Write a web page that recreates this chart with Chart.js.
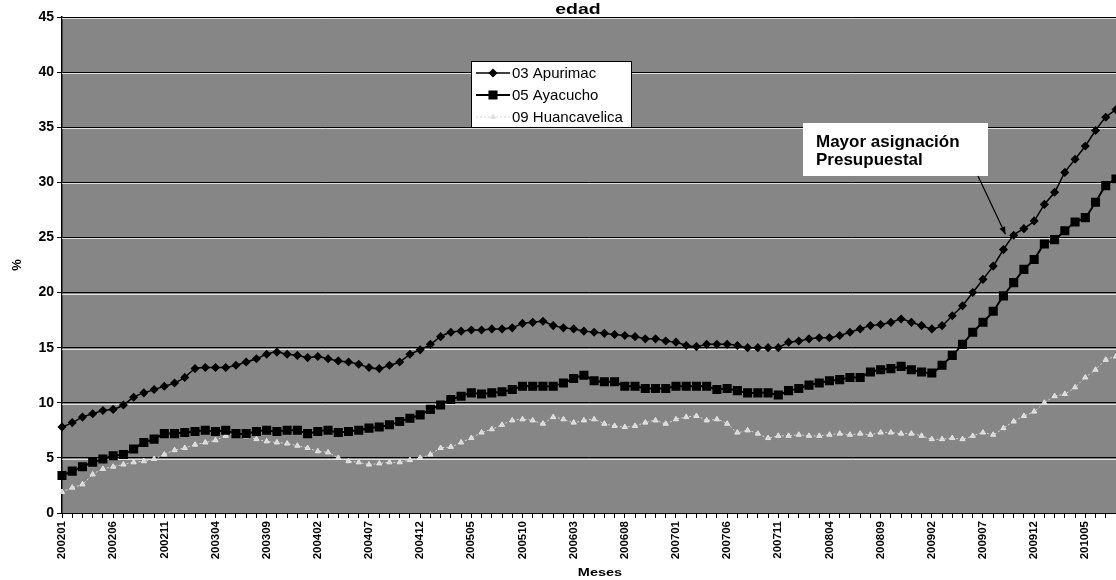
<!DOCTYPE html>
<html>
<head>
<meta charset="utf-8">
<script src="https://cdn.jsdelivr.net/npm/chart.js@4/dist/chart.umd.min.js"></script>
<style>
  body { margin: 0; background: #fff; overflow: hidden; }
  canvas { display: block; }
</style>
</head>
<body>
<!-- un poco mas ancho que la ventana: el grafico original esta recortado a la derecha -->
<canvas id="grafico" width="1123" height="580"></canvas>
<script>
// meses 200201 .. 201008
const meses = [];
for (let a = 2002; a <= 2010; a++) {
  for (let m = 1; m <= 12; m++) {
    if (a === 2010 && m > 8) break;
    meses.push(String(a) + (m < 10 ? '0' : '') + m);
  }
}

const etiquetasX = ['200201', '200206', '200211', '200304', '200309', '200402', '200407', '200412',
  '200505', '200510', '200603', '200608', '200701', '200706', '200711', '200804', '200809',
  '200902', '200907', '200912', '201005'];
const ticksY = [0, 5, 10, 15, 20, 25, 30, 35, 40, 45];

const apurimac = [
  7.8, 8.2, 8.7, 9.0, 9.3, 9.4, 9.8, 10.5, 10.9, 11.2, 11.5, 11.8, 12.3, 13.1, 13.2, 13.2, 13.2, 13.4,
  13.7, 14.0, 14.4, 14.6, 14.4, 14.3, 14.1, 14.2, 14.0, 13.8, 13.7, 13.5, 13.2, 13.1, 13.4, 13.7, 14.4, 14.8,
  15.3, 16.0, 16.4, 16.5, 16.6, 16.6, 16.7, 16.7, 16.8, 17.2, 17.3, 17.4, 17.0, 16.8, 16.7, 16.5, 16.4, 16.3,
  16.2, 16.1, 16.0, 15.8, 15.8, 15.6, 15.5, 15.2, 15.1, 15.3, 15.3, 15.3, 15.2, 15.0, 15.0, 15.0, 15.0,
  15.5, 15.6, 15.8, 15.9, 15.9, 16.1, 16.4, 16.7, 17.0, 17.1, 17.3, 17.6, 17.3, 17.0, 16.7, 17.0, 17.9,
  18.8, 20.0, 21.2, 22.4, 23.9, 25.2, 25.8, 26.5, 28.0, 29.1, 30.9, 32.1, 33.3, 34.7, 35.9, 36.6
];
const ayacucho = [
  3.4, 3.8, 4.2, 4.6, 4.9, 5.2, 5.3, 5.8, 6.4, 6.7, 7.2, 7.2, 7.3, 7.4, 7.5, 7.4, 7.5, 7.2, 7.2, 7.4,
  7.5, 7.4, 7.5, 7.5, 7.2, 7.4, 7.5, 7.3, 7.4, 7.5, 7.7, 7.8, 8.0, 8.3, 8.6,
  8.9, 9.4, 9.8, 10.3, 10.6, 10.9, 10.8, 10.9, 11.0, 11.2, 11.5, 11.5, 11.5, 11.5,
  11.8, 12.2, 12.5, 12.0, 11.9, 11.9, 11.5, 11.5, 11.3, 11.3, 11.3, 11.5, 11.5, 11.5, 11.5, 11.2, 11.3,
  11.1, 10.9, 10.9, 10.9, 10.7,
  11.1, 11.3, 11.6, 11.8, 12.0, 12.1, 12.3, 12.3, 12.8, 13.0, 13.1, 13.3, 13.0, 12.8, 12.7, 13.4, 14.3,
  15.3, 16.4, 17.3, 18.3, 19.7, 20.9, 22.1, 23.0, 24.4, 24.8, 25.6, 26.4, 26.8, 28.2, 29.7, 30.3
];
const huancavelica = [
  1.9, 2.3, 2.6, 3.5, 4.0, 4.2, 4.4, 4.6, 4.7, 4.9, 5.3, 5.7, 5.9, 6.2, 6.4, 6.6, 7.0, 7.2, 6.9, 6.7,
  6.5, 6.4, 6.3, 6.1, 5.9, 5.6, 5.5, 5.0, 4.7, 4.6, 4.4, 4.5, 4.6, 4.6, 4.8, 5.0,
  5.3, 5.9, 6.0, 6.4, 6.8, 7.3, 7.6, 8.0, 8.4, 8.5, 8.4, 8.1, 8.7, 8.5, 8.2, 8.4, 8.5, 8.1, 7.9, 7.8,
  7.9, 8.2, 8.4, 8.1, 8.5, 8.7, 8.8, 8.4, 8.5, 8.1, 7.3, 7.5, 7.2, 6.8, 7.0,
  7.0, 7.1, 7.0, 7.0, 7.1, 7.2, 7.1, 7.2, 7.1, 7.3, 7.3, 7.2, 7.2, 7.0, 6.7, 6.7, 6.8, 6.7, 7.0, 7.3,
  7.1, 7.7, 8.3, 8.8, 9.2, 10.0, 10.6, 10.8, 11.4, 12.3, 13.0, 13.9, 14.2
];

const fuente = 'Liberation Sans, Arial, Helvetica, sans-serif';

// texto ensanchado (las letras del original son mas anchas)
function textoAncho(ctx, txt, x, y, font, escala) {
  ctx.save();
  ctx.font = font;
  ctx.textAlign = 'center';
  ctx.textBaseline = 'middle';
  ctx.translate(x, y);
  ctx.scale(escala, 1);
  ctx.fillText(txt, 0, 0);
  ctx.restore();
}

// fondo gris, titulo, leyenda y nota
const decoracion = {
  id: 'decoracion',
  beforeDraw(chart) {
    const { ctx, chartArea: a } = chart;
    ctx.save();
    ctx.fillStyle = '#868686';
    ctx.fillRect(a.left, a.top, a.right - a.left, a.bottom - a.top);
    ctx.restore();
  },
  beforeDatasetsDraw(chart) {
    // linea clara bajo cada linea de division
    const { ctx, chartArea: a, scales } = chart;
    ctx.save();
    ctx.strokeStyle = 'rgba(255,255,255,0.75)';
    ctx.lineWidth = 1;
    ticksY.forEach(v => {
      if (v === 0) return;
      const y = Math.round(scales.y.getPixelForValue(v)) + 1.5;
      ctx.beginPath();
      ctx.moveTo(a.left, y);
      ctx.lineTo(a.right, y);
      ctx.stroke();
    });
    ctx.restore();
  },
  afterDraw(chart) {
    const { ctx, scales } = chart;
    ctx.save();
    ctx.fillStyle = '#000';

    // titulo y titulo del eje x
    textoAncho(ctx, 'edad', 578, 10, 'bold 15px ' + fuente, 1.3);
    textoAncho(ctx, 'Meses', 600, 573, 'bold 10px ' + fuente, 1.45);

    // leyenda
    ctx.fillStyle = '#fff';
    ctx.fillRect(471, 61, 161, 67);
    ctx.strokeStyle = '#000';
    ctx.lineWidth = 1;
    ctx.strokeRect(471.5, 61.5, 160, 66);
    chart.data.datasets.forEach((ds, i) => {
      const y = 73 + i * 22;
      ctx.save();
      ctx.strokeStyle = ds.borderColor;
      ctx.lineWidth = ds.borderWidth;
      ctx.setLineDash(ds.borderDash || []);
      ctx.beginPath();
      ctx.moveTo(476, y);
      ctx.lineTo(510, y);
      ctx.stroke();
      ctx.setLineDash([]);
      ctx.fillStyle = ds.pointBackgroundColor;
      ctx.strokeStyle = ds.pointBorderColor;
      Chart.helpers.drawPoint(ctx, { pointStyle: ds.pointStyle, radius: ds.pointRadius, rotation: 0, borderWidth: 1 }, 493, y);
      ctx.restore();
      ctx.fillStyle = '#000';
      ctx.font = '15px ' + fuente;
      ctx.textAlign = 'left';
      ctx.textBaseline = 'middle';
      ctx.fillText(ds.label, 512, y + 1);
    });

    // nota
    ctx.fillStyle = '#fff';
    ctx.fillRect(803, 123, 185, 53);
    ctx.fillStyle = '#000';
    ctx.font = 'bold 17px ' + fuente;
    ctx.textAlign = 'left';
    ctx.textBaseline = 'middle';
    ctx.fillText('Mayor asignación', 816, 142);
    ctx.fillText('Presupuestal', 816, 160);

    // flecha hacia la serie de Apurimac
    const x0 = 978, y0 = 176;
    const x1 = scales.x.getPixelForValue(92) + 2;
    const y1 = scales.y.getPixelForValue(25.3);
    const ang = Math.atan2(y1 - y0, x1 - x0);
    ctx.strokeStyle = '#000';
    ctx.lineWidth = 1.2;
    ctx.beginPath();
    ctx.moveTo(x0, y0);
    ctx.lineTo(x1, y1);
    ctx.stroke();
    ctx.beginPath();
    ctx.moveTo(x1, y1);
    ctx.lineTo(x1 - 8 * Math.cos(ang - 0.4), y1 - 8 * Math.sin(ang - 0.4));
    ctx.lineTo(x1 - 8 * Math.cos(ang + 0.4), y1 - 8 * Math.sin(ang + 0.4));
    ctx.closePath();
    ctx.fillStyle = '#000';
    ctx.fill();

    ctx.restore();
  }
};

new Chart(document.getElementById('grafico'), {
  type: 'line',
  data: {
    labels: meses,
    datasets: [
      {
        label: '03 Apurimac',
        data: apurimac,
        borderColor: '#000',
        borderWidth: 1.5,
        pointStyle: 'rectRot',
        pointRadius: 3.5,
        pointBackgroundColor: '#000',
        pointBorderColor: '#000',
        tension: 0.2
      },
      {
        label: '05 Ayacucho',
        data: ayacucho,
        borderColor: '#000',
        borderWidth: 2,
        pointStyle: 'rect',
        pointRadius: 5,
        pointBackgroundColor: '#000',
        pointBorderColor: '#000',
        tension: 0.2
      },
      {
        label: '09 Huancavelica',
        data: huancavelica,
        borderColor: '#d4d4d4',
        borderWidth: 1,
        borderDash: [2, 2],
        pointStyle: 'triangle',
        pointRadius: 3,
        pointBackgroundColor: '#d8d8d8',
        pointBorderColor: '#e6e6e6',
        tension: 0.2
      }
    ]
  },
  options: {
    responsive: false,
    animation: false,
    layout: { padding: { top: 17, right: 0, left: 0, bottom: 0 } },
    plugins: {
      legend: { display: false },
      tooltip: { enabled: false }
    },
    scales: {
      x: {
        afterFit: s => { s.height = 67; s.paddingLeft = 0; s.paddingRight = 0; },
        grid: { drawOnChartArea: false, drawTicks: true, tickLength: 5, color: '#000' },
        border: { color: '#000', width: 1 },
        ticks: {
          autoSkip: false,
          maxRotation: 90,
          minRotation: 90,
          padding: 3,
          color: '#000',
          font: { family: fuente, size: 11.5, weight: 'bold' },
          callback: function(v) {
            const l = this.getLabelForValue(v);
            return etiquetasX.includes(l) ? l : '';
          }
        }
      },
      y: {
        min: 0,
        max: 45,
        afterFit: s => { s.width = 62; },
        afterBuildTicks: s => { s.ticks = ticksY.map(v => ({ value: v })); },
        grid: { color: '#000', lineWidth: 1, tickLength: 5 },
        border: { color: '#000', width: 1.5 },
        ticks: {
          padding: 3,
          color: '#000',
          font: { family: fuente, size: 14, weight: 'bold' }
        },
        title: {
          display: true,
          text: '%',
          color: '#000',
          font: { family: fuente, size: 13, weight: 'bold' },
          padding: { top: 10, bottom: 0 }
        }
      }
    }
  },
  plugins: [decoracion]
});
</script>
</body>
</html>
